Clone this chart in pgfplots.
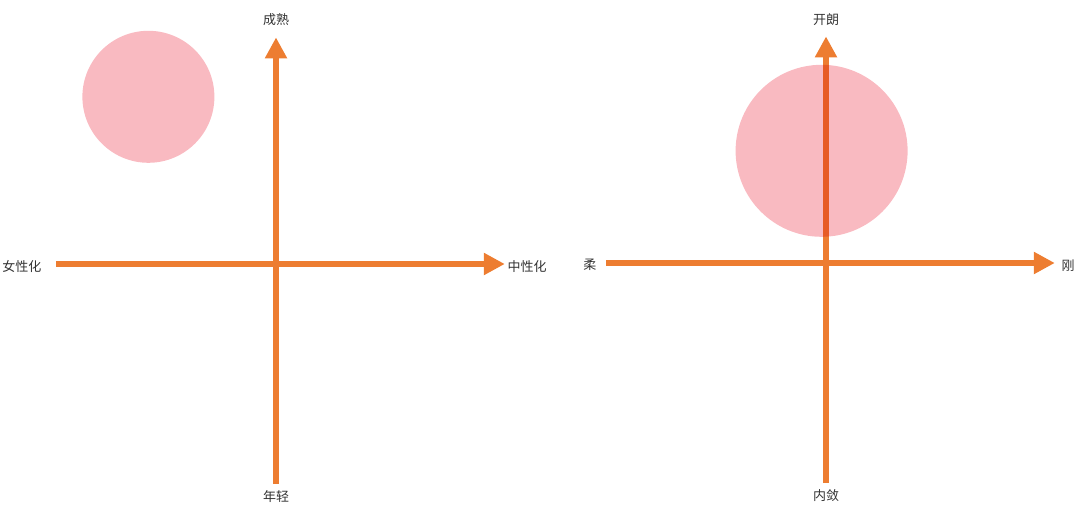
\documentclass[border=0pt]{standalone}
\usepackage{fontspec}
\usepackage{pgfplots}
\pgfplotsset{compat=1.18}
\usetikzlibrary{arrows.meta}
\newfontfamily\cjk{Noto Sans CJK SC}
\definecolor{axisorange}{HTML}{ED7D31}
\definecolor{bubblepink}{HTML}{F9BAC1}
\definecolor{labelgray}{HTML}{333333}

\pgfplotsset{
  quadrant/.style={
    x=110pt, y=110pt,
    axis lines=center,
    xtick=\empty, ytick=\empty,
    xmin=-1, xmax=1.04, ymin=-1, ymax=1.03,
    every inner x axis line/.append style={axisorange, line width=3pt,
      -{Triangle[length=10.5pt,width=10.5pt]}},
    every inner y axis line/.append style={axisorange, line width=3pt,
      -{Triangle[length=10.5pt,width=10.5pt]}},
    clip=false,
    anchor=origin,
  },
  bubble/.style={color=bubblepink, only marks, mark=*, blend mode=multiply,
    mark options={fill=bubblepink, draw opacity=0, line width=0pt}},
}
\tikzset{lbl/.style={font=\cjk\fontsize{6.5}{7}\selectfont, text=labelgray, inner sep=0pt}}

\begin{document}
\begin{tikzpicture}
  \useasboundingbox (0,0) rectangle (540pt,260pt);

  % left: 女性化 - 中性化 / 年轻 - 成熟
  \begin{axis}[quadrant, at={(138pt,128pt)}]
    \addplot[bubble, mark size=33pt] coordinates {(-0.58,0.76)};
    \node[lbl] at (axis cs:0,1.109) {成熟};
    \node[lbl] at (axis cs:0,-1.059) {年轻};
    \node[lbl] at (axis cs:-1.155,-0.01) {女性化};
    \node[lbl] at (axis cs:1.141,-0.01) {中性化};
  \end{axis}

  % right: 柔 - 刚 / 内敛 - 开朗
  \begin{axis}[quadrant, at={(413pt,128.5pt)}]
    \addplot[bubble, mark size=43pt] coordinates {(-0.02,0.51)};
    \node[lbl] at (axis cs:0,1.105) {开朗};
    \node[lbl] at (axis cs:0,-1.059) {内敛};
    \node[lbl] at (axis cs:-1.073,-0.01) {柔};
    \node[lbl] at (axis cs:1.10,-0.01) {刚};
  \end{axis}
\end{tikzpicture}
\end{document}
